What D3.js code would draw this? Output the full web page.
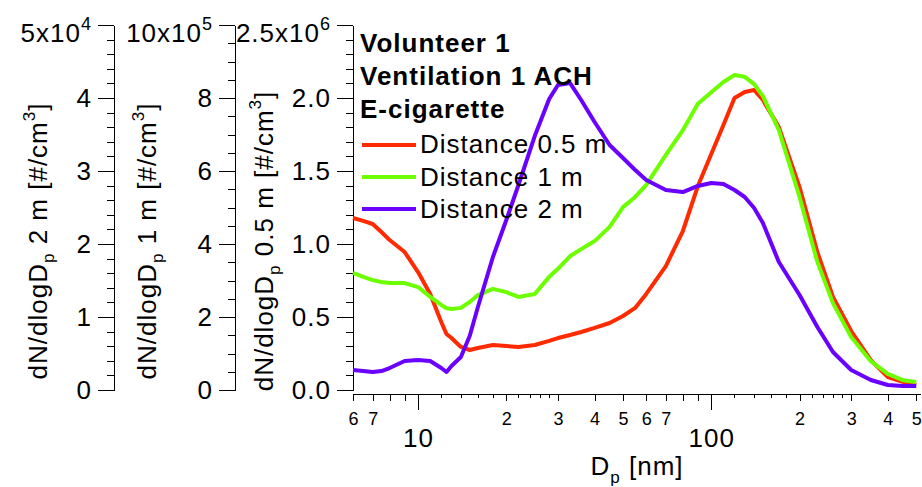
<!DOCTYPE html>
<html>
<head>
<meta charset="utf-8">
<script src="https://cdn.jsdelivr.net/npm/d3@7"></script>
<style>
body{margin:0;background:#fff;}
svg{font-family:Arial,"Liberation Sans",sans-serif;}
svg text{letter-spacing:1px;}
.axis path,.axis line{stroke:#000;stroke-width:1;shape-rendering:crispEdges;}
</style>
</head>
<body>
<svg id="chart" width="922" height="487"></svg>
<script>
//Size distributions, dN/dlogDp [#/cm3] vs Dp [nm]
var diameters = [6, 6.5, 7, 7.5, 8, 9, 10, 11, 12, 12.5, 13, 14, 15, 16, 18, 20, 22, 25, 28, 30, 33, 36, 40, 45, 50, 55, 60, 70, 80, 90, 100, 110, 120, 130, 140, 150, 170, 200, 230, 260, 300, 350, 400, 450, 500];

var conc05 = [1.178e6, 1.158e6, 1.137e6, 1.082e6, 1.027e6, 0.945e6, 0.808e6, 0.658e6, 0.466e6, 0.384e6, 0.356e6, 0.295e6, 0.274e6, 0.288e6, 0.308e6, 0.301e6, 0.295e6, 0.308e6, 0.336e6, 0.356e6, 0.377e6, 0.397e6, 0.425e6, 0.459e6, 0.507e6, 0.562e6, 0.658e6, 0.849e6, 1.089e6, 1.397e6, 1.616e6, 1.815e6, 2.000e6, 2.041e6, 2.055e6, 1.986e6, 1.801e6, 1.390e6, 0.945e6, 0.637e6, 0.404e6, 0.205e6, 0.089e6, 0.055e6, 0.034e6];

var conc1 = [3.21e5, 3.10e5, 3.01e5, 2.96e5, 2.93e5, 2.93e5, 2.82e5, 2.55e5, 2.33e5, 2.24e5, 2.22e5, 2.25e5, 2.41e5, 2.60e5, 2.77e5, 2.68e5, 2.55e5, 2.63e5, 3.10e5, 3.32e5, 3.67e5, 3.86e5, 4.08e5, 4.47e5, 5.01e5, 5.29e5, 5.62e5, 6.44e5, 7.12e5, 7.84e5, 8.16e5, 8.44e5, 8.63e5, 8.58e5, 8.38e5, 8.05e5, 7.12e5, 5.29e5, 3.51e5, 2.38e5, 1.45e5, 0.79e5, 0.44e5, 0.27e5, 0.22e5];

var conc2 = [2740, 2600, 2470, 2600, 3010, 3970, 4110, 3970, 3010, 2470, 3290, 4520, 7400, 11370, 18220, 23290, 28080, 34790, 39860, 41780, 42050, 39730, 36710, 33560, 31780, 30140, 28770, 27400, 27120, 27950, 28360, 28220, 27400, 26440, 24930, 22880, 17530, 13010, 8630, 5210, 2740, 1370, 690, 550, 550];

var seriesNames = ["Distance 0.5 m", "Distance 1 m", "Distance 2 m"];
var titleLines = ["Volunteer 1", "Ventilation 1 ACH", "E-cigarette"];

var yTicks05 = [0, 0.5e6, 1.0e6, 1.5e6, 2.0e6, 2.5e6];
var yTicks1 = [0, 2e5, 4e5, 6e5, 8e5, 10e5];
var yTicks2 = [0, 1e4, 2e4, 3e4, 4e4, 5e4];
var xMajorTicks = [10, 100];
var xLabelTicks = [6, 7, 20, 30, 40, 50, 60, 70, 200, 300, 400, 500];

var colors = ["#ff2a00", "#6cff00", "#6a00ff"];

var svg = d3.select("#chart");

var x = d3.scaleLog().domain([6, 515]).range([353, 920]);
var y05 = d3.scaleLinear().domain([0, 2.5e6]).range([390, 25]);
var y1 = d3.scaleLinear().domain([0, 10e5]).range([390, 25]);
var y2 = d3.scaleLinear().domain([0, 5e4]).range([390, 25]);

//minor ticks from the major step
function minorTicks(scale, step){
	var out = [], dom = scale.domain();
	for(var i = 0; dom[0] + i*step <= dom[1] + 1e-9; i++) out.push(dom[0] + i*step);
	return out;
}

//left value axis with a "x10^n" label on top
function leftAxis(xPos, scale, ticks, minorStep, expo, decimals){
	var g = svg.append("g").attr("class", "axis").attr("transform", "translate(" + xPos + ",0)");
	g.call(d3.axisLeft(scale).tickValues(minorTicks(scale, minorStep)).tickSize(7).tickSizeOuter(0).tickFormat(""));
	var gm = svg.append("g").attr("class", "axis").attr("transform", "translate(" + xPos + ",0)");
	gm.call(d3.axisLeft(scale).tickValues(ticks).tickSize(16).tickSizeOuter(0).tickPadding(6)
		.tickFormat(function(d){ return (d / Math.pow(10, expo)).toFixed(decimals); }));
	gm.select(".domain").remove();
	gm.selectAll("text").attr("font-size", 26).attr("fill", "#000").attr("font-family", "Arial, 'Liberation Sans', sans-serif");
	var top = ticks[ticks.length - 1];
	var t = gm.selectAll(".tick text").filter(function(d){ return d === top; });
	var lab = t.text();
	t.text(null).attr("dy", "0.62em");
	t.append("tspan").text(lab + "x10");
	t.append("tspan").attr("font-size", 18).attr("dy", -12).text(expo);
}

leftAxis(114, y2, yTicks2, 0.2e4, 4, 0);
leftAxis(235, y1, yTicks1, 0.5e5, 5, 0);
leftAxis(353, y05, yTicks05, 0.1e6, 6, 1);

//bottom log axis
var xAll = [];
[1, 10, 100].forEach(function(dec){
	for(var k = 1; k <= 9; k++){ var v = k*dec; if(v >= 6 && v <= 515) xAll.push(v); }
});
var xSub = [12, 14, 16, 18, 22, 24, 26, 28, 120, 140, 160, 180, 220, 240, 260, 280];

var gx = svg.append("g").attr("class", "axis").attr("transform", "translate(0,394)");
gx.call(d3.axisBottom(x).tickValues(xSub).tickSize(4).tickSizeOuter(0).tickFormat(""));
var gx1 = svg.append("g").attr("class", "axis").attr("transform", "translate(0,394)");
gx1.call(d3.axisBottom(x).tickValues(xAll.filter(function(v){ return xMajorTicks.indexOf(v) < 0; })).tickSize(7).tickSizeOuter(0).tickPadding(11)
	.tickFormat(function(d){ return xLabelTicks.indexOf(d) >= 0 ? String(d).charAt(0) : ""; }));
gx1.select(".domain").remove();
gx1.selectAll("text").attr("font-size", 18).attr("fill", "#000").style("letter-spacing", "0px");
var gx2 = svg.append("g").attr("class", "axis").attr("transform", "translate(0,394)");
gx2.call(d3.axisBottom(x).tickValues(xMajorTicks).tickSize(16).tickSizeOuter(0).tickPadding(19).tickFormat(d3.format("d")));
gx2.select(".domain").remove();
gx2.selectAll("text").attr("font-size", 26).attr("fill", "#000");

//axis titles
function yTitle(xPos, dist){
	var t = svg.append("text").attr("transform", "translate(" + xPos + ",241) rotate(-90)")
		.attr("text-anchor", "middle").attr("font-size", 26).attr("fill", "#000");
	t.append("tspan").text("dN/dlogD");
	t.append("tspan").attr("font-size", 17).attr("dy", 7).text("p");
	t.append("tspan").attr("dy", -7).text(" " + dist + " [#/cm");
	t.append("tspan").attr("font-size", 17).attr("dy", -12).text("3");
	t.append("tspan").attr("dy", 12).text("]");
}
yTitle(47, "2 m");
yTitle(156, "1 m");
yTitle(273, "0.5 m");

var xt = svg.append("text").attr("x", 637).attr("y", 475).attr("text-anchor", "middle").attr("font-size", 26).attr("fill", "#000");
xt.append("tspan").text("D");
xt.append("tspan").attr("font-size", 17).attr("dy", 8).text("p");
xt.append("tspan").attr("dy", -8).text(" [nm]");

//curves
var series = [
	{name: seriesNames[0], values: conc05, y: y05, color: colors[0]},
	{name: seriesNames[1], values: conc1, y: y1, color: colors[1]},
	{name: seriesNames[2], values: conc2, y: y2, color: colors[2]}
];
series.forEach(function(s){
	var line = d3.line().x(function(d, i){ return x(diameters[i]); }).y(function(d){ return s.y(d); });
	svg.append("path").datum(s.values).attr("d", line).attr("fill", "none")
		.attr("stroke", s.color).attr("stroke-width", 4).attr("stroke-linejoin", "round");
});

//legend
titleLines.forEach(function(txt, i){
	svg.append("text").attr("x", 360).attr("y", 52 + i*33).attr("font-size", 26).attr("font-weight", "bold").attr("fill", "#000").text(txt);
});
series.forEach(function(s, i){
	svg.append("line").attr("x1", 362).attr("x2", 416).attr("y1", 145 + i*32).attr("y2", 145 + i*32)
		.attr("stroke", s.color).attr("stroke-width", 4);
	svg.append("text").attr("x", 420).attr("y", 153 + i*32.5).attr("font-size", 26).attr("fill", "#000").text(s.name);
});
</script>
</body>
</html>
